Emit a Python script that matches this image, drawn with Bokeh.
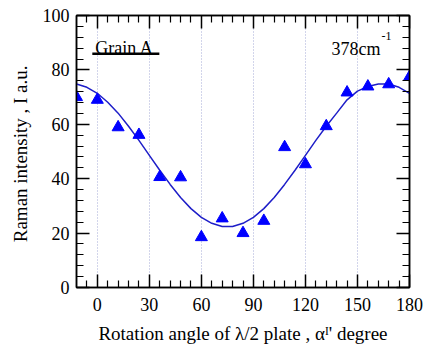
from bokeh.plotting import figure
from bokeh.models import (Range1d, LinearAxis, FixedTicker, BoxAnnotation,
                          CustomJSTickFormatter)
from bokeh.core.properties import value
from bokeh.embed import file_html
from bokeh.resources import INLINE

# Measured Raman intensity vs. half-wave plate rotation angle (Grain A, 378 cm^-1)
angle = [-12, 0, 12, 24, 36, 48, 60, 72, 84, 96, 108, 120, 132, 144, 156, 168, 180]
intensity = [70.0, 69.0, 58.9, 56.1, 40.6, 40.5, 18.5, 25.4, 20.0, 24.5,
             51.6, 45.3, 59.3, 71.7, 73.9, 74.7, 77.4]

# Fitted curve, sampled every 6 degrees
fit_angle = [-12, -6, 0, 6, 12, 18, 24, 30, 36, 42, 48, 54, 60, 66, 72, 78, 84,
             90, 96, 102, 108, 114, 120, 126, 132, 138, 144, 150, 156, 162, 168, 174, 180]
fit_intensity = [74.8, 73.6, 71.4, 68.1, 64.1, 59.3, 54.1, 48.6, 43.1, 37.9, 33.1,
                 29.0, 25.8, 23.6, 22.4, 22.4, 23.6, 25.8, 29.0, 33.1, 37.9, 43.1,
                 48.6, 54.1, 59.3, 64.1, 69.0, 72.2, 73.9, 74.8, 74.8, 73.6, 71.4]

x_major = [0, 30, 60, 90, 120, 150, 180]
x_minor = [-6, 6, 12, 18, 24, 36, 42, 48, 54, 66, 72, 78, 84, 96, 102, 108, 114,
           126, 132, 138, 144, 156, 162, 168, 174]
x_grid = [0, 30, 60, 90, 120, 150]
y_major = [0, 20, 40, 60, 80, 100]
y_minor = [4, 8, 12, 16, 24, 28, 32, 36, 44, 48, 52, 56, 64, 68, 72, 76,
           84, 88, 92, 96]

x_title = "Rotation angle of \u03bb/2 plate , \u03b1\u1d35' degree"
y_title = "Raman intensity ,  I a.u."

FONT = "serif"

p = figure(width=426, height=357, x_range=Range1d(-12, 180), y_range=Range1d(0, 100),
           output_backend="svg", toolbar_location=None,
           min_border_left=76, min_border_right=17, min_border_top=15, min_border_bottom=70)
p.background_fill_color = "white"
p.border_fill_color = "white"
p.outline_line_color = "black"
p.outline_line_width = 1.5


def style_axis(ax, major, minor, show_labels=True, standoff=8):
    ax.ticker = FixedTicker(ticks=major, minor_ticks=minor)
    ax.axis_line_color = "black"
    ax.axis_line_width = 1.5
    ax.major_tick_in = 13
    ax.major_tick_out = 0
    ax.minor_tick_in = 7
    ax.minor_tick_out = 0
    ax.major_tick_line_color = "black"
    ax.minor_tick_line_color = "black"
    ax.major_tick_line_width = 1.5
    ax.minor_tick_line_width = 1.2
    ax.major_label_text_font = FONT
    ax.major_label_text_font_size = "18px"
    ax.major_label_text_color = "black"
    ax.major_label_standoff = standoff
    if not show_labels:
        ax.formatter = CustomJSTickFormatter(code="return ''")


style_axis(p.xaxis[0], x_major, x_minor, standoff=10)
style_axis(p.yaxis[0], y_major, y_minor, standoff=7)

for ax, title in ((p.xaxis[0], x_title), (p.yaxis[0], y_title)):
    ax.axis_label = title
    ax.axis_label_text_font = FONT
    ax.axis_label_text_font_style = "normal"
    ax.axis_label_text_font_size = "19px"
    ax.axis_label_text_color = "black"
p.xaxis[0].axis_label_standoff = 9
p.yaxis[0].axis_label_standoff = 9

top_axis = LinearAxis()
style_axis(top_axis, x_major, x_minor, show_labels=False)
p.add_layout(top_axis, "above")
right_axis = LinearAxis()
style_axis(right_axis, y_major, y_minor, show_labels=False)
p.add_layout(right_axis, "right")

p.xgrid.ticker = FixedTicker(ticks=x_grid)
p.xgrid.grid_line_color = "#a4aad6"
p.xgrid.grid_line_width = 1
p.xgrid.grid_line_dash = "1 2"
p.ygrid.visible = False

p.line(fit_angle, fit_intensity, line_color="#1e1ec8", line_width=1.5)
p.scatter(angle, intensity, marker="triangle", size=12,
          fill_color="#0000ff", line_color="#0000ff")


# Annotation placement helpers: canvas pixel -> data coordinates
def dx(px):
    return (px - 97) * 30 / 52


def dy(py):
    return (287 - py) * 100 / 272


def add_text(text, px, py, size="18px"):
    p.text(x=[dx(px)], y=[dy(py)], text=[text], text_font=value(FONT),
           text_font_size=value(size), text_font_style="normal",
           text_color="black", text_align="left", text_baseline="alphabetic")


# Sample tag and Raman shift
add_text("Grain A", 95, 47)
p.add_layout(BoxAnnotation(left=dx(92), right=dx(159), bottom=dy(54.5), top=dy(52),
                           fill_color="black", fill_alpha=1.0, line_alpha=0))
add_text("378cm", 331, 48)
add_text("-1", 381, 35, size="12px")

open("out.html", "w").write(file_html(p, INLINE))
